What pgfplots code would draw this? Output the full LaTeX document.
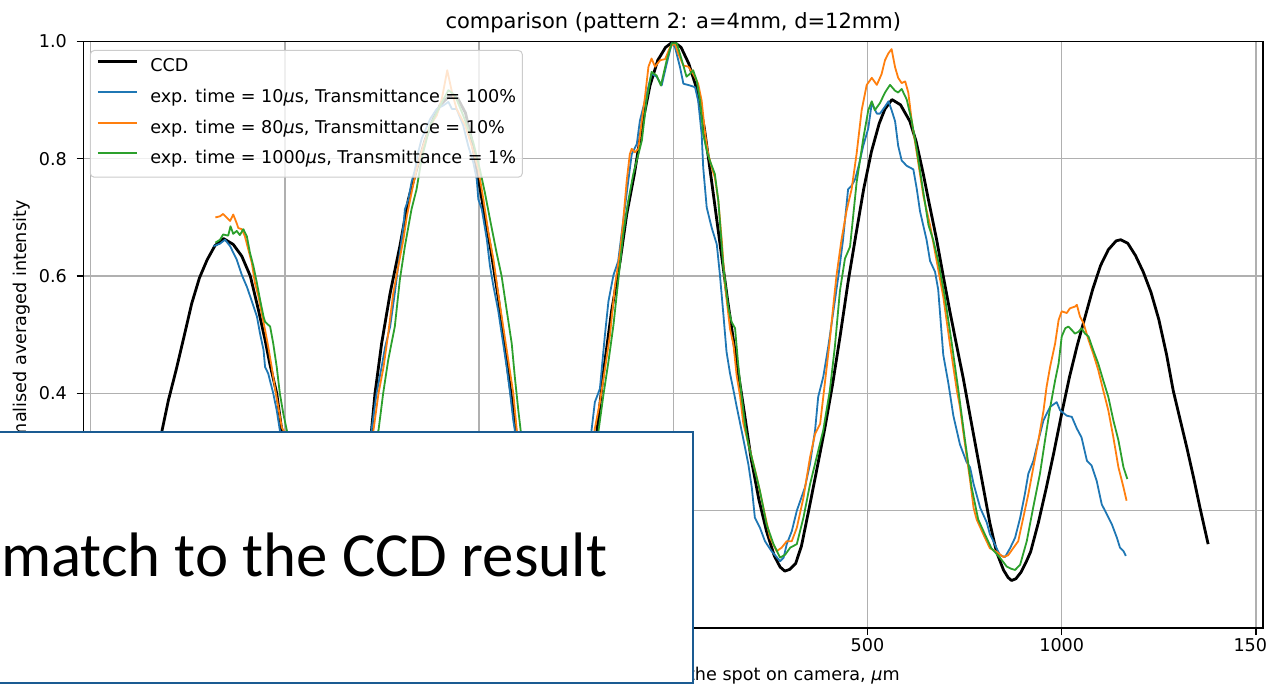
\documentclass[border=0pt]{standalone}
\usepackage{fontspec}
\setmainfont{DejaVu Sans}
\newfontfamily\slidefont{Carlito}
\usepackage{pgfplots}
\pgfplotsset{compat=1.18}

\definecolor{c0}{HTML}{1F77B4}
\definecolor{c1}{HTML}{FF7F0E}
\definecolor{c2}{HTML}{2CA02C}
\definecolor{gridgray}{HTML}{B0B0B0}
\definecolor{frameblue}{HTML}{1A5B92}
\newcommand\labelfont{\fontsize{8.8pt}{10.5pt}\selectfont}
\newcommand\titlefont{\fontsize{10.5pt}{12.6pt}\selectfont}

\begin{document}
\begin{tikzpicture}
\path[use as bounding box, clip] (0pt,0pt) rectangle (634pt,342.5pt);
\begin{axis}[
  at={(41.85pt,28.5pt)}, anchor=south west,
  scale only axis, width=589.6pt, height=293.25pt,
  xmin=-1518, xmax=1518, ymin=0, ymax=1,
  xtick={-1500,-1000,-500,0,500,1000,1500},
  ytick={0,0.2,0.4,0.6,0.8,1},
  scaled ticks=false,
  /pgf/number format/assume math mode=true,
  ticklabel style={font=\labelfont},
  xticklabel style={/pgf/number format/fixed, /pgf/number format/1000 sep={}, anchor=north, inner sep=0pt, yshift=-1.5pt},
  yticklabel style={/pgf/number format/fixed, /pgf/number format/fixed zerofill, /pgf/number format/precision=1, anchor=east, inner sep=0pt, xshift=-4.7pt},
  tick align=outside, tick pos=left,
  major tick length=3.5pt,
  tick style={black, line width=0.7pt},
  axis line style={black, line width=0.7pt},
  grid=major,
  grid style={gridgray, line width=0.65pt},
  title={comparison (pattern 2: a=4mm, d=12mm)},
  title style={font=\titlefont, at={(axis description cs:0.5,1)}, anchor=base, yshift=0.25pt, inner sep=0pt},
  xlabel={position of the spot on camera, \textit{μ}m},
  xlabel style={font=\labelfont, at={(axis description cs:0.6923,-0.0665)}, anchor=north east, inner sep=0pt},
  ylabel={normalised averaged intensity},
  ylabel style={font=\labelfont, at={(axis description cs:-0.0489,0.5)}, anchor=base, inner sep=0pt},
  legend style={
    at={(axis description cs:0,1)}, anchor=north west, xshift=3.05pt, yshift=-4.25pt,
    draw=black!20, line width=0.5pt, fill=white, fill opacity=0.8, text opacity=1,
    rounded corners=2pt, font=\labelfont,
    inner xsep=3.1pt, inner ysep=3.4pt, row sep=4.65pt, column sep=6.15pt,
    nodes={inner sep=0pt, text height=7.3pt, text depth=3.35pt},
  },
  legend cell align=left,
  legend image code/.code={\draw[#1] (0pt,3.2pt) -- (19.35pt,3.2pt);},
  every axis plot/.append style={line join=round},
]

% CCD reference profile
\addplot[black, line width=1.4pt] coordinates {
(-1380,0.140)(-1360,0.200)(-1340,0.262)(-1320,0.325)(-1300,0.388)(-1280,0.440)(-1260,0.496)(-1240,0.553)(-1220,0.597)(-1200,0.628)(-1180,0.652)(-1158,0.664)(-1133,0.654)(-1111,0.634)(-1089,0.600)(-1068,0.542)(-1051,0.491)(-1039,0.451)(-1021,0.400)(-1008,0.337)(-990,0.280)(-970,0.220)(-950,0.168)(-930,0.128)(-910,0.102)(-890,0.087)(-870,0.081)(-850,0.092)(-830,0.125)(-810,0.190)(-790,0.275)(-777,0.337)(-768,0.400)(-751,0.485)(-729,0.571)(-704,0.651)(-682,0.731)(-661,0.782)(-640,0.830)(-620,0.865)(-600,0.892)(-575,0.908)(-555,0.903)(-535,0.878)(-520,0.835)(-506,0.782)(-489,0.716)(-470,0.645)(-450,0.560)(-430,0.460)(-412,0.370)(-400,0.310)(-380,0.225)(-360,0.162)(-340,0.125)(-320,0.105)(-300,0.097)(-280,0.098)(-260,0.110)(-240,0.142)(-220,0.210)(-200,0.315)(-180,0.435)(-159,0.540)(-137,0.625)(-120,0.705)(-100,0.775)(-80,0.858)(-60,0.925)(-40,0.968)(-20,0.990)
(0,1.000)(20,0.990)(40,0.962)(60,0.920)(80,0.852)(100,0.755)(120,0.656)(140,0.558)(160,0.467)(180,0.380)(200,0.290)(220,0.220)(240,0.165)(260,0.123)(275,0.104)(287,0.097)(300,0.100)(315,0.110)(330,0.140)(350,0.205)(370,0.272)(390,0.340)(410,0.415)(430,0.500)(450,0.590)(470,0.670)(490,0.748)(510,0.812)(530,0.860)(545,0.885)(563,0.901)(585,0.892)(609,0.864)(625,0.830)(644,0.773)(660,0.720)(678,0.662)(695,0.600)(712,0.540)(730,0.480)(747,0.424)(764,0.362)(781,0.301)(798,0.240)(815,0.179)(832,0.130)(850,0.099)(862,0.086)(871,0.081)(882,0.084)(895,0.095)(908,0.112)(920,0.130)(940,0.180)(960,0.238)(980,0.300)(1000,0.366)(1020,0.428)(1040,0.482)(1060,0.530)(1080,0.578)(1100,0.618)(1120,0.645)(1140,0.660)(1152,0.662)(1170,0.656)(1190,0.635)(1210,0.607)(1230,0.572)(1250,0.526)(1270,0.466)(1287,0.405)(1305,0.355)(1322,0.308)(1340,0.255)(1356,0.205)(1377,0.143)
};
\addlegendentry{CCD}

% 10 us, 100 %
\addplot[c0, line width=0.9pt] coordinates {
(-1184,0.651)(-1168,0.655)(-1154,0.662)(-1141,0.651)(-1124,0.628)(-1111,0.602)(-1098,0.582)(-1085,0.557)(-1072,0.531)(-1064,0.502)(-1055,0.474)(-1051,0.445)(-1043,0.434)(-1030,0.400)(-1021,0.371)(-1013,0.337)(-1000,0.290)(-985,0.240)(-970,0.192)(-955,0.155)(-940,0.130)(-920,0.115)(-900,0.110)(-880,0.116)(-860,0.140)(-840,0.180)(-820,0.235)(-800,0.290)(-777,0.337)(-764,0.400)(-751,0.445)(-742,0.479)(-729,0.514)(-717,0.571)(-704,0.640)(-695,0.685)(-691,0.714)(-682,0.731)(-674,0.760)(-665,0.782)(-657,0.811)(-648,0.834)(-626,0.868)(-609,0.885)(-592,0.891)(-579,0.897)(-570,0.885)(-558,0.885)(-541,0.857)(-528,0.822)(-515,0.794)(-506,0.765)(-502,0.731)(-493,0.714)(-480,0.662)(-472,0.617)(-463,0.582)(-451,0.542)(-438,0.485)(-429,0.445)(-420,0.400)(-412,0.354)(-408,0.337)(-395,0.280)(-380,0.220)(-365,0.175)(-350,0.145)(-330,0.125)(-310,0.115)(-290,0.120)(-270,0.140)(-250,0.180)(-235,0.230)(-220,0.290)(-210,0.340)(-202,0.385)(-189,0.408)(-176,0.500)(-167,0.557)(-154,0.602)(-142,0.625)(-129,0.694)(-116,0.762)(-107,0.808)(-94,0.825)(-86,0.865)(-73,0.899)(-56,0.945)(-43,0.940)(-30,0.925)(-17,0.962)(-4,0.997)(4,0.991)(17,0.957)(26,0.928)(43,0.925)(56,0.922)(64,0.899)(73,0.842)(77,0.785)(86,0.717)(99,0.682)(112,0.654)(120,0.602)(129,0.534)(137,0.471)(146,0.434)(155,0.405)(163,0.378)(176,0.336)(193,0.280)(202,0.240)(210,0.188)(223,0.171)(236,0.148)(253,0.131)(275,0.114)(284,0.120)(292,0.143)(305,0.165)(318,0.200)(339,0.240)(352,0.280)(365,0.337)(373,0.394)(386,0.428)(399,0.480)(410,0.530)(425,0.600)(437,0.662)(450,0.748)(459,0.754)(468,0.765)(478,0.790)(489,0.822)(502,0.852)(511,0.895)(524,0.877)(532,0.877)(545,0.889)(554,0.898)(562,0.883)(571,0.864)(579,0.822)(588,0.797)(601,0.788)(618,0.782)(627,0.748)(635,0.711)(652,0.662)(661,0.626)(674,0.607)(682,0.577)(695,0.466)(708,0.418)(721,0.362)(738,0.313)(755,0.283)(764,0.274)(773,0.246)(790,0.205)(807,0.180)(815,0.160)(824,0.148)(841,0.124)(854,0.121)(867,0.136)(880,0.154)(893,0.188)(905,0.228)(914,0.263)(927,0.285)(940,0.320)(953,0.354)(970,0.377)(987,0.385)(996,0.371)(1013,0.362)(1026,0.360)(1039,0.340)(1051,0.325)(1065,0.285)(1077,0.277)(1090,0.251)(1103,0.211)(1116,0.194)(1129,0.177)(1142,0.154)(1150,0.137)(1159,0.131)(1165,0.123)
};
\addlegendentry{exp. time = 10\textit{μ}s, Transmittance = 100\%}

% 80 us, 10 %
\addplot[c1, line width=0.9pt] coordinates {
(-1179,0.700)(-1167,0.702)(-1159,0.706)(-1150,0.700)(-1141,0.694)(-1133,0.705)(-1124,0.690)(-1120,0.682)(-1111,0.680)(-1103,0.668)(-1094,0.645)(-1085,0.622)(-1077,0.588)(-1068,0.565)(-1060,0.537)(-1051,0.508)(-1043,0.480)(-1034,0.445)(-1026,0.411)(-1017,0.377)(-1008,0.342)(-1002,0.335)(-990,0.290)(-975,0.240)(-960,0.195)(-945,0.160)(-930,0.135)(-910,0.120)(-890,0.120)(-870,0.135)(-850,0.165)(-830,0.210)(-810,0.260)(-790,0.300)(-772,0.337)(-759,0.400)(-746,0.445)(-734,0.502)(-721,0.571)(-708,0.617)(-695,0.662)(-686,0.702)(-674,0.742)(-661,0.782)(-644,0.822)(-626,0.857)(-609,0.874)(-596,0.902)(-582,0.951)(-570,0.914)(-558,0.885)(-536,0.857)(-519,0.822)(-502,0.782)(-489,0.731)(-476,0.674)(-463,0.628)(-451,0.571)(-438,0.514)(-425,0.457)(-412,0.400)(-403,0.337)(-390,0.280)(-375,0.225)(-360,0.180)(-345,0.150)(-325,0.130)(-305,0.125)(-285,0.130)(-265,0.150)(-245,0.190)(-228,0.240)(-215,0.290)(-202,0.340)(-189,0.385)(-176,0.442)(-163,0.500)(-150,0.585)(-137,0.642)(-129,0.694)(-120,0.762)(-112,0.808)(-107,0.817)(-99,0.811)(-90,0.817)(-81,0.865)(-73,0.905)(-64,0.957)(-56,0.971)(-47,0.957)(-34,0.968)(-21,0.970)(-8,0.991)(4,0.997)(13,0.979)(26,0.959)(39,0.957)(51,0.945)(64,0.928)(73,0.899)(82,0.842)(90,0.808)(99,0.785)(107,0.768)(116,0.728)(125,0.659)(133,0.585)(146,0.510)(155,0.483)(163,0.431)(172,0.395)(180,0.350)(189,0.325)(202,0.291)(215,0.257)(232,0.205)(249,0.154)(266,0.131)(279,0.137)(292,0.148)(305,0.148)(318,0.171)(335,0.222)(352,0.291)(365,0.331)(378,0.348)(391,0.422)(403,0.491)(412,0.550)(420,0.600)(433,0.662)(446,0.711)(459,0.748)(472,0.809)(485,0.883)(498,0.926)(511,0.938)(524,0.926)(536,0.944)(545,0.968)(554,0.980)(562,0.987)(571,0.956)(579,0.938)(588,0.929)(597,0.932)(605,0.913)(614,0.864)(627,0.809)(644,0.736)(661,0.687)(678,0.626)(695,0.565)(712,0.485)(730,0.405)(738,0.377)(747,0.332)(764,0.252)(773,0.205)(781,0.185)(798,0.160)(815,0.136)(832,0.130)(850,0.121)(862,0.124)(875,0.136)(888,0.148)(901,0.188)(914,0.228)(927,0.274)(940,0.320)(953,0.370)(961,0.411)(970,0.445)(983,0.485)(992,0.525)(1000,0.540)(1013,0.537)(1021,0.545)(1034,0.548)(1039,0.551)(1047,0.531)(1056,0.520)(1069,0.491)(1081,0.468)(1094,0.440)(1107,0.405)(1120,0.371)(1133,0.325)(1146,0.274)(1159,0.240)(1167,0.217)
};
\addlegendentry{exp. time = 80\textit{μ}s, Transmittance = 10\%}

% 1000 us, 1 %
\addplot[c2, line width=0.9pt] coordinates {
(-1179,0.657)(-1167,0.662)(-1159,0.671)(-1146,0.669)(-1140,0.685)(-1133,0.672)(-1124,0.677)(-1116,0.670)(-1107,0.680)(-1098,0.668)(-1090,0.640)(-1081,0.617)(-1072,0.588)(-1064,0.560)(-1055,0.531)(-1051,0.522)(-1038,0.514)(-1030,0.485)(-1021,0.445)(-1013,0.400)(-1004,0.365)(-995,0.337)(-983,0.290)(-968,0.235)(-953,0.190)(-938,0.155)(-920,0.130)(-900,0.115)(-880,0.118)(-860,0.138)(-840,0.175)(-820,0.220)(-800,0.270)(-780,0.310)(-759,0.337)(-747,0.400)(-734,0.457)(-717,0.514)(-704,0.594)(-691,0.651)(-674,0.714)(-661,0.748)(-648,0.800)(-626,0.857)(-600,0.891)(-579,0.917)(-562,0.908)(-541,0.874)(-515,0.828)(-498,0.782)(-485,0.742)(-472,0.697)(-455,0.640)(-442,0.600)(-429,0.542)(-416,0.485)(-408,0.428)(-399,0.371)(-393,0.337)(-380,0.280)(-365,0.225)(-350,0.180)(-335,0.150)(-315,0.130)(-295,0.125)(-275,0.130)(-255,0.150)(-240,0.185)(-225,0.235)(-208,0.290)(-193,0.334)(-180,0.397)(-167,0.454)(-154,0.517)(-142,0.591)(-129,0.671)(-116,0.728)(-103,0.774)(-94,0.797)(-81,0.831)(-69,0.899)(-56,0.948)(-43,0.942)(-32,0.925)(-17,0.968)(-4,0.997)(9,0.997)(22,0.968)(34,0.940)(43,0.945)(51,0.951)(60,0.934)(69,0.899)(77,0.842)(86,0.814)(94,0.797)(107,0.774)(116,0.728)(129,0.614)(142,0.545)(150,0.522)(159,0.511)(167,0.450)(176,0.395)(185,0.345)(193,0.314)(206,0.280)(223,0.234)(240,0.177)(258,0.143)(275,0.120)(288,0.125)(301,0.137)(318,0.143)(335,0.188)(352,0.245)(369,0.291)(386,0.337)(403,0.405)(416,0.480)(429,0.575)(442,0.630)(455,0.650)(472,0.760)(489,0.834)(502,0.883)(511,0.898)(519,0.883)(532,0.895)(545,0.913)(558,0.926)(571,0.916)(579,0.913)(588,0.919)(601,0.901)(614,0.864)(627,0.815)(644,0.742)(657,0.687)(669,0.662)(682,0.626)(699,0.565)(717,0.485)(734,0.405)(751,0.320)(768,0.240)(785,0.185)(802,0.160)(819,0.136)(841,0.120)(858,0.105)(870,0.101)(880,0.099)(893,0.108)(910,0.148)(927,0.207)(944,0.263)(957,0.320)(970,0.375)(983,0.422)(992,0.451)(1000,0.497)(1009,0.511)(1017,0.514)(1026,0.508)(1034,0.502)(1043,0.505)(1051,0.511)(1060,0.502)(1069,0.497)(1081,0.474)(1094,0.451)(1107,0.422)(1120,0.394)(1133,0.354)(1146,0.320)(1159,0.274)(1169,0.254)
};
\addlegendentry{exp. time = 1000\textit{μ}s, Transmittance = 1\%}
\end{axis}

% text box laid over the lower left of the plot
\draw[frameblue, line width=1pt, fill=white] (-5pt,1pt) rectangle (346.5pt,126.5pt);
\node[anchor=base west, inner sep=0pt, font=\slidefont\fontsize{31.4pt}{37pt}\selectfont] at (0.4pt,54.15pt) {match to the CCD result};
\end{tikzpicture}
\end{document}
